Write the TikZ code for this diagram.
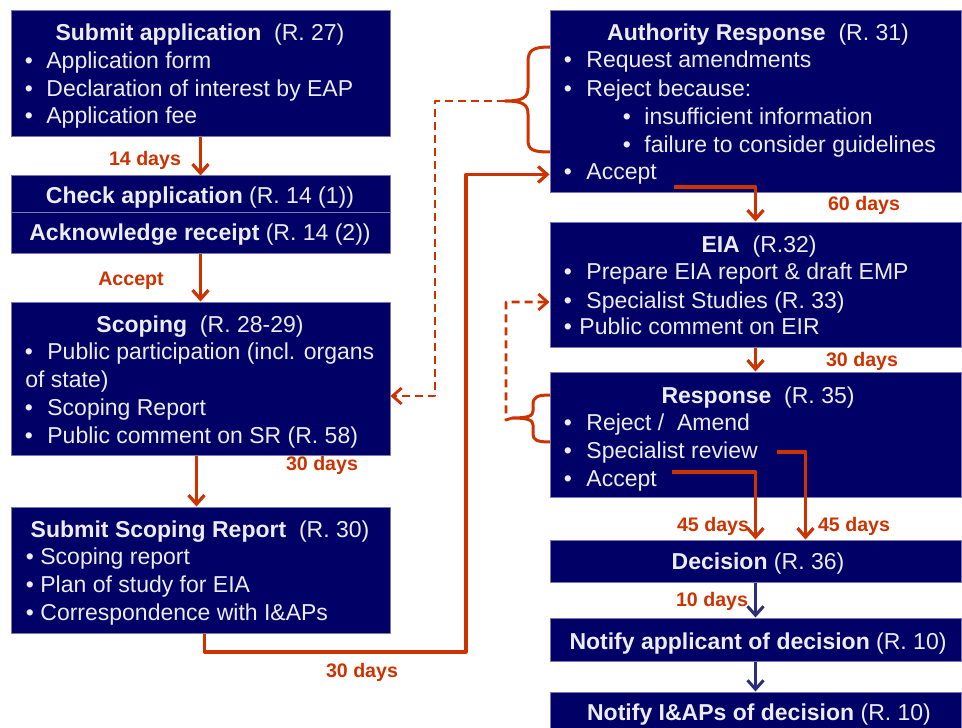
\documentclass[tikz,border=0pt]{standalone}
\usepackage{fontspec}
\setmainfont{Liberation Sans}
\usetikzlibrary{arrows.meta,fit}
\definecolor{boxblue}{RGB}{0,0,102}
\definecolor{boxline}{RGB}{120,120,175}
\definecolor{boxtext}{RGB}{236,236,242}
\definecolor{rust}{RGB}{204,51,0}
\definecolor{arrowblue}{RGB}{45,45,125}
\begin{document}
\begin{tikzpicture}[x=0.5pt,y=-0.5pt,line join=round,
    box/.style={fill=boxblue,draw=boxline,line width=0.5pt,inner sep=0pt},
    item/.style={anchor=base west,inner sep=0pt,text=boxtext,font=\fontsize{11.5}{14}\selectfont},
    head/.style={anchor=base,inner sep=0pt,text=boxtext,font=\fontsize{11.5}{14}\selectfont},
    days/.style={inner sep=0pt,text=rust,font=\fontsize{9.8}{12}\selectfont\bfseries},
    flow/.style={draw=rust,line width=1.6pt,-{Straight Barb[length=4.5pt,width=8pt]}},
    bflow/.style={draw=arrowblue,line width=1.5pt,-{Straight Barb[length=4.5pt,width=8pt]}},
    dflow/.style={draw=rust,line width=1.4pt,dash pattern=on 4pt off 2.5pt,-{Straight Barb[length=4.5pt,width=8pt]}},
    brace/.style={draw=rust,line width=1.5pt}]
    \useasboundingbox (0,0) rectangle (962,727);
    \clip (0,0) rectangle (962,727);
    % left column
    \node[box,fit={(11,11) (390,137)}] (subapp) {};
    \node[box,fit={(11,176) (390,212)}] (chk) {};
    \node[box,fit={(11,212) (390,253)}] (ack) {};
    \node[box,fit={(11,302) (390,455)}] (scop) {};
    \node[box,fit={(11,507) (390,633)}] (ssr) {};
    % right column
    \node[box,fit={(550,11) (961,193)}] (auth) {};
    \node[box,fit={(550,222) (961,347)}] (eia) {};
    \node[box,fit={(550,372) (961,497)}] (resp) {};
    \node[box,fit={(550,540) (961,582)}] (dec) {};
    \node[box,fit={(550,618) (961,661)}] (nap) {};
    \node[box,fit={(550,692) (961,745)}] (nia) {};
    % texts, left
    \node[head] (subapp-h) at (200,41) {\textbf{Submit application}\ \ (R. 27)};
    \foreach \yy/\txt in {69/Application form,97/Declaration of interest by EAP,124/Application fee}{
        \node[head] (subapp-b\yy) at (29,\yy) {•};
        \node[item] (subapp-\yy) at (46,\yy) {\txt};
    }
    \node[head] (chk-h) at (200,204) {\textbf{Check application} (R. 14 (1))};
    \node[head] (ack-h) at (200,241) {\textbf{Acknowledge receipt} (R. 14 (2))};
    \node[head] (scop-h) at (200,332) {\textbf{Scoping}\ \ (R. 28-29)};
    \foreach \yy/\txt in {359/Public participation (incl. organs,415/Scoping Report,443/Public comment on SR (R. 58)}{
        \node[head] (scop-b\yy) at (29,\yy) {•};
        \node[item] (scop-\yy) at (47,\yy) {\txt};
    }
    \node[item] (scop-387) at (25,387) {of state)};
    \node[head] (ssr-h) at (200,537) {\textbf{Submit Scoping Report}\ \ (R. 30)};
    \foreach \yy/\txt in {564/Scoping report,592/Plan of study for EIA,620/Correspondence with I\&APs}{
        \node[head] (ssr-b\yy) at (30,\yy) {•};
        \node[item] (ssr-\yy) at (40,\yy) {\txt};
    }
    % texts, right
    \node[head] (auth-h) at (758,41) {\textbf{Authority Response}\ \ (R. 31)};
    \foreach \yy/\txt in {68/Request amendments,97/Reject because:,180/Accept}{
        \node[head] (auth-b\yy) at (568,\yy) {•};
        \node[item] (auth-\yy) at (586,\yy) {\txt};
    }
    \foreach \yy/\txt in {125/insufficient information,153/failure to consider guidelines}{
        \node[head] (auth-b\yy) at (627,\yy) {•};
        \node[item] (auth-\yy) at (644,\yy) {\txt};
    }
    \node[head] (eia-h) at (759,252) {\textbf{EIA}\ \ (R.32)};
    \foreach \yy/\txt in {279/Prepare EIA report \& draft EMP,308/Specialist Studies (R. 33)}{
        \node[head] (eia-b\yy) at (568,\yy) {•};
        \node[item] (eia-\yy) at (586,\yy) {\txt};
    }
    \node[head] (eia-b334) at (568,334) {•};
    \node[item] (eia-334) at (579,334) {Public comment on EIR};
    \node[head] (resp-h) at (758,403) {\textbf{Response}\ \ (R. 35)};
    \foreach \yy/\txt in {430/{Reject /\ \ Amend},458/Specialist review,486/Accept}{
        \node[head] (resp-b\yy) at (568,\yy) {•};
        \node[item] (resp-\yy) at (586,\yy) {\txt};
    }
    \node[head] (dec-h) at (758,569) {\textbf{Decision} (R. 36)};
    \node[head] (nap-h) at (758,649) {\textbf{Notify applicant of decision} (R. 10)};
    \node[head] (nia-h) at (759,720) {\textbf{Notify I\&APs of decision} (R. 10)};
    % braces
    \draw[brace] (550,47) .. controls (533,47) and (528,50) .. (528,62) -- (528,88)
        .. controls (528,98) and (522,101) .. (505,101) .. controls (522,101) and (528,104) .. (528,114)
        -- (528,140) .. controls (528,150) and (533,152) .. (550,152);
    \draw[brace] (550,395) .. controls (537,395) and (533,397) .. (533,405) -- (533,411)
        .. controls (533,416) and (528,418) .. (512,418) .. controls (528,418) and (533,420) .. (533,425)
        -- (533,434) .. controls (533,440) and (537,442) .. (550,442);
    \coordinate (abrace) at (505,101);
    \coordinate (rbrace) at (512,418);
    \coordinate (aout) at (674,187);
    \coordinate (racc) at (672,472);
    \coordinate (rspec) at (777,452);
    % connectors
    \draw[flow] (subapp) -- (chk);
    \draw[flow] (ack) -- (scop);
    \draw[flow] ([xshift=-2pt]scop.south) -- ([xshift=-2pt]ssr.north);
    \draw[flow] ([xshift=2pt]ssr.south) |- (466,652) |- (auth.west |- auth-180);
    \draw[flow] (aout) -| (eia.north);
    \draw[flow] (eia) -- (resp);
    \draw[flow] (racc) -| (dec.north);
    \draw[flow] (rspec) -| ([xshift=25pt]dec.north);
    \draw[bflow] (dec) -- (nap);
    \draw[bflow] (nap) -- (nia);
    \draw[dflow] (abrace) -- (435,101) |- ([yshift=-8.75pt]scop.east);
    \draw[dflow] (rbrace) -- (506,420) |- ([yshift=-8.75pt]eia.west);
    % durations
    \node[days] (d14) at (145,160) {14 days};
    \node[days] (dacc) at (131,281) {Accept};
    \node[days] (d30a) at (322,465) {30 days};
    \node[days] (d30b) at (362,672) {30 days};
    \node[days] (d60) at (864,205) {60 days};
    \node[days] (d30c) at (862,361) {30 days};
    \node[days] (d45a) at (713,526) {45 days};
    \node[days] (d45b) at (854,526) {45 days};
    \node[days] (d10) at (712,601) {10 days};
\end{tikzpicture}
\end{document}
